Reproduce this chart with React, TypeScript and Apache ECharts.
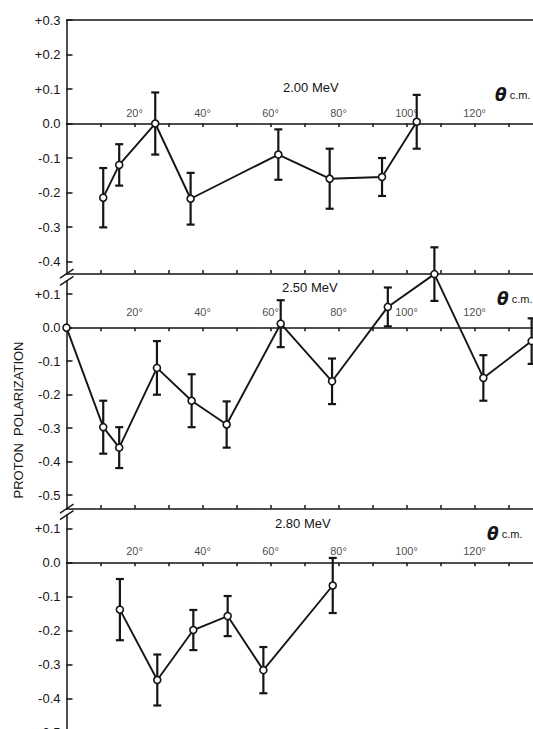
import React, { useEffect, useRef } from 'react';
import * as echarts from 'echarts';

// ---- data ----
const TITLES = ['2.00 MeV', '2.50 MeV', '2.80 MeV'];

const ANGLES_200 = [10.8, 15.5, 26.1, 36.5, 62.3, 77.4, 92.8, 103.0];
const POL_200 = [-0.215, -0.12, 0.0, -0.218, -0.09, -0.16, -0.155, 0.005];
const ERR_200 = [0.086, 0.06, 0.09, 0.075, 0.073, 0.087, 0.055, 0.078];

const ANGLES_250 = [0, 10.8, 15.5, 26.6, 36.8, 47.1, 63.0, 78.1, 94.5, 108.2, 122.6, 136.8];
const POL_250 = [0.0, -0.297, -0.358, -0.12, -0.218, -0.289, 0.012, -0.16, 0.062, 0.16, -0.15, -0.04];
const ERR_250 = [0, 0.079, 0.061, 0.08, 0.079, 0.069, 0.07, 0.068, 0.058, 0.08, 0.068, 0.068];

const ANGLES_280 = [15.7, 26.7, 37.3, 47.4, 57.9, 78.3];
const POL_280 = [-0.138, -0.345, -0.198, -0.157, -0.316, -0.067];
const ERR_280 = [0.09, 0.075, 0.059, 0.059, 0.068, 0.081];

const X_TICKS = [10, 20, 30, 40, 50, 60, 70, 80, 90, 100, 110, 120, 130];
const X_LABELS = [20, 40, 60, 80, 100, 120];
const Y_TICKS_TOP = [0.3, 0.2, 0.1, 0, -0.1, -0.2, -0.3, -0.4];
const Y_TICKS_MID = [0.1, 0, -0.1, -0.2, -0.3, -0.4, -0.5];
const Y_TICKS_BOT = [0.1, 0, -0.1, -0.2, -0.3, -0.4, -0.5];
const Y_NAME = 'PROTON  POLARIZATION';
const X_NAME = 'c.m.';

// ---- layout ----
const W = 533;
const H = 729;
const LEFT = 66.5;
const X_MAX = 137.2;
const FONT = '"Liberation Sans", Arial, sans-serif';
const INK = '#151515';

const PANELS = [
  { top: 20, height: 253.6, min: -0.435, max: 0.3, yTicks: Y_TICKS_TOP, labelDist: 5,
    angles: ANGLES_200, pol: POL_200, err: ERR_200, titleX: 283, titleY: 87, thX: 495, thY: 95, border: true },
  { top: 280.8, height: 227.8, min: -0.54, max: 0.14, yTicks: Y_TICKS_MID, labelDist: 9.5,
    angles: ANGLES_250, pol: POL_250, err: ERR_250, titleX: 282, titleY: 287, thX: 497, thY: 299, border: false },
  { top: 515.1, height: 217.6, min: -0.5, max: 0.14, yTicks: Y_TICKS_BOT, labelDist: 6,
    angles: ANGLES_280, pol: POL_280, err: ERR_280, titleX: 275, titleY: 523, thX: 487, thY: 534, border: false },
];

const fmtY = (v: number) => {
  const r = Math.round(v * 10) / 10;
  if (r > 0) return '+' + r.toFixed(1);
  if (r === 0) return '0.0';
  return r.toFixed(1);
};

function errorBarRender(params: any, api: any) {
  const x = api.value(0);
  const y = api.value(1);
  const e = api.value(2);
  if (!e) return { type: 'group', children: [] };
  const p1 = api.coord([x, y + e]);
  const p2 = api.coord([x, y - e]);
  const cap = 4;
  const style = { stroke: INK, lineWidth: 2.2, fill: 'none' };
  return {
    type: 'group',
    children: [
      { type: 'line', shape: { x1: p1[0], y1: p1[1], x2: p2[0], y2: p2[1] }, style },
      { type: 'line', shape: { x1: p1[0] - cap, y1: p1[1], x2: p1[0] + cap, y2: p1[1] }, style },
      { type: 'line', shape: { x1: p2[0] - cap, y1: p2[1], x2: p2[0] + cap, y2: p2[1] }, style },
    ],
  };
}

export default function App() {
  const ref = useRef<HTMLDivElement>(null);

  useEffect(() => {
    document.body.style.margin = '0';
    if (!ref.current) return;
    const chart = echarts.init(ref.current, undefined, { renderer: 'svg', width: W, height: H });

    const n = PANELS.length;
    const grid: any[] = [];
    const xAxis: any[] = [];
    const yAxis: any[] = [];
    const series: any[] = [];
    const graphic: any[] = [];

    // main grids (0..n-1): visible y axis, zero x axis with downward ticks
    PANELS.forEach((p, i) => {
      grid.push({ left: LEFT, right: 0, top: p.top, height: p.height, outerBoundsMode: 'none', containLabel: false });
      xAxis.push({
        type: 'value', gridIndex: i, min: 0, max: X_MAX, position: 'bottom',
        axisLine: { show: true, onZero: true, lineStyle: { color: INK, width: 1.5 } },
        axisTick: { show: true, inside: false, length: 3.5, customValues: X_TICKS, lineStyle: { color: INK, width: 1.5 } },
        axisLabel: { show: false },
        splitLine: { show: false },
      });
      yAxis.push({
        type: 'value', gridIndex: i, min: p.min, max: p.max, position: 'left',
        axisLine: { show: true, onZero: false, lineStyle: { color: INK, width: 1.5 } },
        axisTick: { show: true, inside: true, length: 6, customValues: p.yTicks, lineStyle: { color: INK, width: 1.5 } },
        axisLabel: { show: true, customValues: p.yTicks, formatter: fmtY, margin: 6, fontSize: 13,
          color: INK, fontFamily: FONT },
        splitLine: { show: false },
      });
    });
    // overlay grids (n..2n-1), same rectangles: zero x axis with upward ticks
    PANELS.forEach((p, i) => {
      grid.push({ left: LEFT, right: 0, top: p.top, height: p.height, outerBoundsMode: 'none', containLabel: false });
      xAxis.push({
        type: 'value', gridIndex: n + i, min: 0, max: X_MAX, position: 'bottom',
        axisLine: { show: true, onZero: true, onZeroAxisIndex: 0, lineStyle: { color: INK, width: 1.5 } },
        axisTick: { show: true, inside: true, length: 3.5, customValues: X_TICKS, lineStyle: { color: INK, width: 1.5 } },
        axisLabel: { show: false },
        splitLine: { show: false },
      });
      yAxis.push({
        type: 'value', gridIndex: n + i, min: p.min, max: p.max, position: 'left',
        axisLine: { show: false, onZero: false },
        axisTick: { show: false },
        axisLabel: { show: false },
        splitLine: { show: false },
      });
    });

    PANELS.forEach((p, i) => {
      // error bars live on the overlay grid (identical scales)
      series.push({
        type: 'custom', xAxisIndex: n + i, yAxisIndex: n + i, z: 2, clip: false,
        encode: { x: 0, y: 1 },
        data: p.angles.map((a, j) => [a, p.pol[j], p.err[j]]),
        renderItem: errorBarRender,
      });
      const line: any = {
        type: 'line', xAxisIndex: i, yAxisIndex: i, z: 3, clip: false,
        data: p.angles.map((a, j) => [a, p.pol[j]]),
        symbol: 'circle', symbolSize: 7, showSymbol: true,
        itemStyle: { color: '#fff', borderColor: INK, borderWidth: 1.6 },
        lineStyle: { color: INK, width: 1.9 },
      };
      if (p.border) {
        line.markLine = {
          silent: true, symbol: ['none', 'none'], label: { show: false },
          lineStyle: { color: INK, type: 'solid', width: 1.6 },
          data: [{ yAxis: p.max }],
        };
      }
      series.push(line);
      // angle tick labels, placed above the zero line through the axis scale
      series.push({
        type: 'scatter', xAxisIndex: i, yAxisIndex: i, z: 4, silent: true,
        data: X_LABELS.map((a) => [a, 0]),
        symbol: 'circle', symbolSize: 1,
        itemStyle: { color: 'rgba(0,0,0,0)' },
        label: {
          show: true, position: 'top', distance: p.labelDist,
          formatter: (d: any) => d.value[0] + '°',
          fontSize: 11, color: INK, fontFamily: FONT,
        },
      });

      graphic.push({
        type: 'text', x: p.titleX, y: p.titleY,
        style: { text: TITLES[i], fontSize: 13, fontFamily: FONT, fill: INK, textVerticalAlign: 'middle' },
      });
      graphic.push({
        type: 'text', x: p.thX, y: p.thY,
        style: {
          text: '{a|θ}{b| ' + X_NAME + '}',
          textVerticalAlign: 'middle',
          rich: {
            a: { fontSize: 17, fontStyle: 'italic', fontWeight: 'bold', fontFamily: '"DejaVu Sans", sans-serif', fill: INK, color: INK },
            b: { fontSize: 11, fontFamily: FONT, fill: INK, color: INK },
          },
        },
      });
    });

    // axis breaks
    const breaks = [
      [PANELS[0].top + PANELS[0].height, PANELS[1].top],
      [PANELS[1].top + PANELS[1].height, PANELS[2].top],
    ];
    breaks.forEach(([a, b]) => {
      [a, b].forEach((yc) => {
        graphic.push({
          type: 'line',
          shape: { x1: LEFT - 6.5, y1: yc + 4.5, x2: LEFT + 7, y2: yc - 4.5 },
          style: { stroke: INK, lineWidth: 1.4 },
        });
      });
    });

    graphic.push({
      type: 'text', x: 18, y: 420, rotation: Math.PI / 2,
      style: { text: Y_NAME, fontSize: 13, fontFamily: FONT, fill: INK, textAlign: 'center', textVerticalAlign: 'middle' },
    });

    chart.setOption({
      animation: false,
      backgroundColor: '#fff',
      tooltip: { show: false },
      grid, xAxis, yAxis, series, graphic,
    });

    return () => chart.dispose();
  }, []);

  return <div ref={ref} style={{ width: W, height: H }} />;
}
